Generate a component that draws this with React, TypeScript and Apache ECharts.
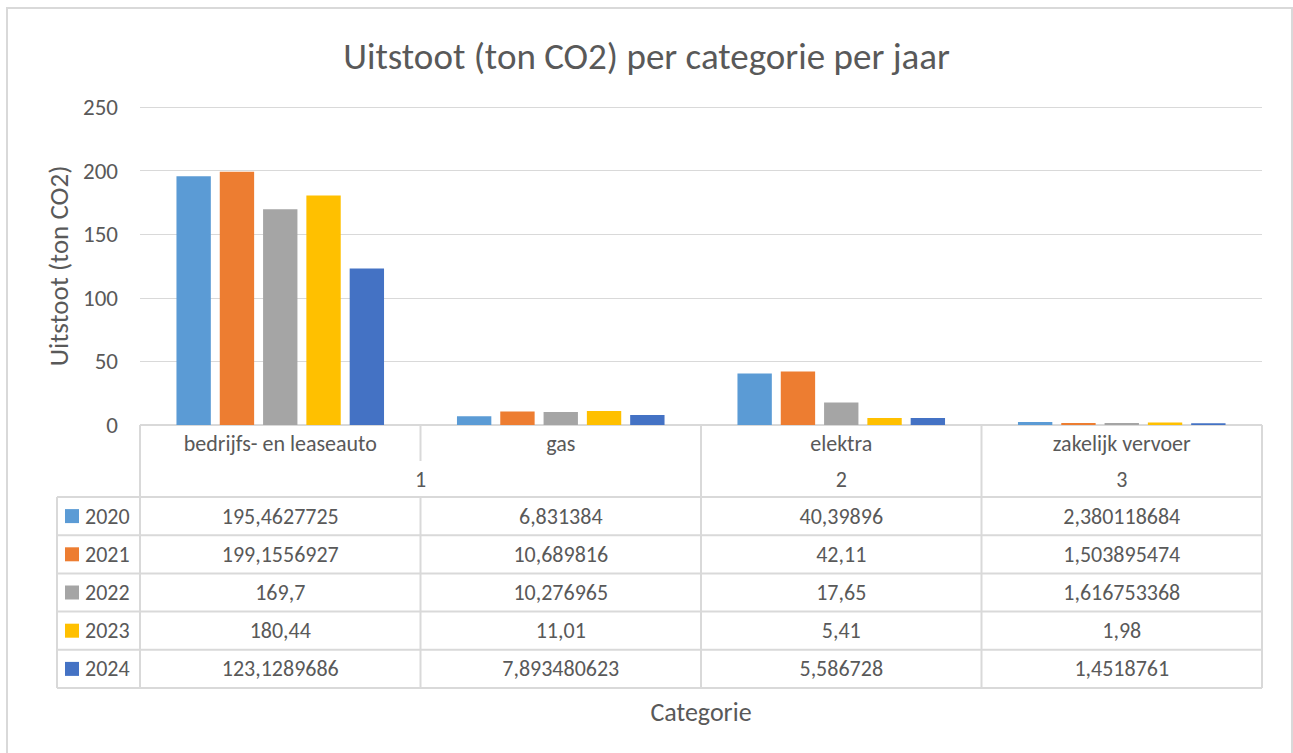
import React, { useEffect, useRef } from "react";
import * as echarts from "echarts";

const categories = ["bedrijfs- en leaseauto", "gas", "elektra", "zakelijk vervoer"];
const groupLabels = ["1", "2", "3"];
const groupSpans = [2, 1, 1];
const years = ["2020", "2021", "2022", "2023", "2024"];
const colors = ["#5B9BD5", "#ED7D31", "#A5A5A5", "#FFC000", "#4472C4"];
const v2020 = [195.4627725, 6.831384, 40.39896, 2.380118684];
const v2021 = [199.1556927, 10.689816, 42.11, 1.503895474];
const v2022 = [169.7, 10.276965, 17.65, 1.616753368];
const v2023 = [180.44, 11.01, 5.41, 1.98];
const v2024 = [123.1289686, 7.893480623, 5.586728, 1.4518761];
const seriesValues = [v2020, v2021, v2022, v2023, v2024];
const yTicks = { min: 0, max: 250, interval: 50 };

const FONT = "Carlito, Lato, 'Open Sans', sans-serif";
const TXT = "#595959";
const LINE = "#D9D9D9";
const TABLE_FS = 22;

const fmt = (v: number) => String(v).replace(".", ",");

export default function App() {
  const ref = useRef<HTMLDivElement>(null);
  useEffect(() => {
    if (!ref.current) return;
    const chart = echarts.init(ref.current, null, { renderer: "svg" });
    chart.setOption({
      animation: false,
      backgroundColor: "#ffffff",
      textStyle: { fontFamily: FONT },
      title: {
        text: "Uitstoot (ton CO2) per categorie per jaar",
        left: "center",
        top: 33,
        textStyle: { fontFamily: FONT, fontSize: 37, fontWeight: "normal", color: TXT },
      },
      grid: { left: 140, right: 31, top: 107, bottom: 328, containLabel: false },
      xAxis: {
        type: "category",
        data: categories,
        axisLine: { show: false },
        axisTick: { show: false },
        axisLabel: { show: false },
      },
      yAxis: {
        type: "value",
        min: yTicks.min,
        max: yTicks.max,
        interval: yTicks.interval,
        name: "Uitstoot (ton CO2)",
        nameLocation: "middle",
        nameRotate: 90,
        nameGap: 68,
        nameTextStyle: { fontFamily: FONT, fontSize: 27, color: TXT },
        axisLine: { show: false },
        axisTick: { show: false },
        axisLabel: { fontFamily: FONT, fontSize: 23, color: TXT, margin: 22 },
        splitLine: { lineStyle: { color: LINE, width: 1 } },
      },
      series: years.map((y, i) => ({
        type: "bar",
        name: y,
        data: seriesValues[i],
        itemStyle: { color: colors[i] },
        barGap: "26%",
        barCategoryGap: "26%",
      })),
    });

    const c0 = chart.convertToPixel({ xAxisIndex: 0 }, 0) as number;
    const c1 = chart.convertToPixel({ xAxisIndex: 0 }, 1) as number;
    const band = c1 - c0;
    const left = c0 - band / 2;
    const right = left + band * categories.length;
    const top = chart.convertToPixel({ yAxisIndex: 0 }, 0) as number;
    const h1 = 36;
    const rowH = 38.2;
    const dataTop = top + h1 * 2;
    const bottom = dataTop + rowH * years.length;
    const legLeft = 57;

    const els: any[] = [];
    const line = (x1: number, y1: number, x2: number, y2: number) =>
      els.push({ type: "line", silent: true, shape: { x1, y1, x2, y2 }, style: { stroke: LINE, lineWidth: 2 } });
    const text = (x: number, y: number, t: string, align = "center") =>
      els.push({
        type: "text",
        silent: true,
        x,
        y,
        style: { text: t, fill: TXT, fontSize: TABLE_FS, fontFamily: FONT, align, verticalAlign: "middle" },
      });

    // horizontal lines
    line(left, top, right, top);
    for (let r = 0; r <= years.length; r++) line(legLeft, dataTop + r * rowH, right, dataTop + r * rowH);
    // vertical lines
    line(left, top, left, bottom);
    line(right, top, right, bottom);
    line(legLeft, dataTop, legLeft, bottom);
    let idx = 0;
    const groupEnds = new Set<number>();
    groupSpans.forEach((s) => {
      idx += s;
      groupEnds.add(idx);
    });
    for (let i = 1; i < categories.length; i++) {
      const x = left + band * i;
      if (groupEnds.has(i)) line(x, top, x, bottom);
      else {
        line(x, top, x, top + h1);
        line(x, dataTop, x, bottom);
      }
    }
    // category labels
    categories.forEach((c, i) => text(left + band * (i + 0.5), top + h1 / 2 + 0, c));
    // group labels
    let start = 0;
    groupLabels.forEach((g, i) => {
      const span = groupSpans[i];
      text(left + band * (start + span / 2), top + h1 * 1.5 + 0, g);
      start += span;
    });
    // data rows
    years.forEach((y, r) => {
      const cy = dataTop + rowH * (r + 0.5);
      els.push({
        type: "rect",
        silent: true,
        shape: { x: 65, y: cy - 7, width: 14, height: 14 },
        style: { fill: colors[r] },
      });
      text(85, cy, y, "left");
      seriesValues[r].forEach((v, i) => text(left + band * (i + 0.5), cy, fmt(v)));
    });
    // x axis title
    els.push({
      type: "text",
      silent: true,
      x: (left + right) / 2,
      y: 712,
      style: { text: "Categorie", fill: TXT, fontSize: 26, fontFamily: FONT, align: "center", verticalAlign: "middle" },
    });
    // outer border
    els.push({
      type: "rect",
      silent: true,
      shape: { x: 7, y: 8, width: 1285, height: 780 },
      style: { fill: "none", stroke: LINE, lineWidth: 2 },
    });
    chart.setOption({ graphic: els });

    return () => chart.dispose();
  }, []);
  return <div ref={ref} style={{ position: "absolute", left: 0, top: 0, width: 1293, height: 753 }} />;
}
